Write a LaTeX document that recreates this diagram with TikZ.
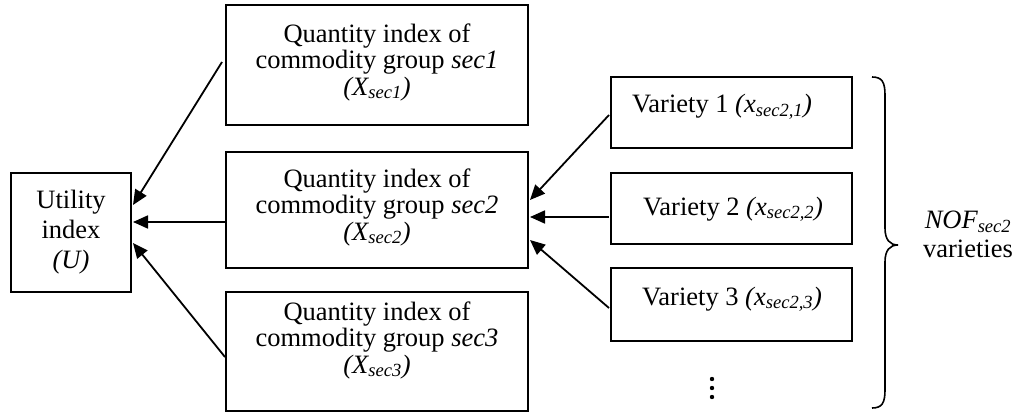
\documentclass[tikz,border=0pt]{standalone}
\usepackage{fontspec}
\setmainfont{Liberation Serif}
\usetikzlibrary{arrows.meta}
\tikzset{
  box/.style={draw, line width=2pt, rectangle, inner sep=0pt},
  txt/.style={inner sep=0pt, align=center, font=\fontsize{26.5}{26.5}\selectfont},
  arr/.style={line width=1.8pt, -{Triangle[length=15pt,width=13pt]}},
}
\begin{document}
\begin{tikzpicture}[x=1pt,y=-1pt]
\useasboundingbox (0,0) rectangle (1018,417);
% boxes
\node[box, minimum width=120pt, minimum height=119pt] (util) at (71,232.5) {};
\node[box, minimum width=302pt, minimum height=120pt] (sec1) at (377,65) {};
\node[box, minimum width=302pt, minimum height=116pt] (sec2) at (377,210) {};
\node[box, minimum width=302pt, minimum height=119pt] (sec3) at (377,351.5) {};
\node[box, minimum width=241pt, minimum height=71pt] (v1) at (731.5,112.5) {};
\node[box, minimum width=241pt, minimum height=71pt] (v2) at (731.5,208.5) {};
\node[box, minimum width=241pt, minimum height=73pt] (v3) at (731.5,304.5) {};
% texts
\node[txt, font=\fontsize{26.5}{30}\selectfont] (utilt) at (71,232) {Utility\\index\\\textit{(U)}};
\node[txt] (sec1t) at (377,62) {Quantity index of\\commodity group \textit{sec1}\\\textit{(X\textsubscript{sec1})}};
\node[txt] (sec2t) at (377,207) {Quantity index of\\commodity group \textit{sec2}\\\textit{(X\textsubscript{sec2})}};
\node[txt] (sec3t) at (377,340) {Quantity index of\\commodity group \textit{sec3}\\\textit{(X\textsubscript{sec3})}};
\node[txt, anchor=base west] (v1t) at (632,113) {Variety 1 \textit{(x\textsubscript{sec2,1})}};
\node[txt, anchor=base west] (v2t) at (643,215) {Variety 2 \textit{(x\textsubscript{sec2,2})}};
\node[txt, anchor=base west] (v3t) at (642,305) {Variety 3 \textit{(x\textsubscript{sec2,3})}};
\node[txt, anchor=base] (nof) at (968,229) {\textit{NOF\textsubscript{sec2}}};
\node[txt, anchor=base] (var) at (968,257) {varieties};
% dots
\fill (712,379) circle (2.2pt) (712,388) circle (2.2pt) (712,397) circle (2.2pt);
% brace
\draw[line width=1.6pt] (872,77) .. controls (882,77) and (885,82) .. (885,95)
  -- (885,228) .. controls (885,240) and (890,245) .. (898,245)
  .. controls (890,245) and (885,250) .. (885,262)
  -- (885,390) .. controls (885,403) and (882,408) .. (872,408);
% arrows
\draw[arr] ([xshift=-3pt,yshift=3pt]sec1.west) -- ([xshift=1pt,yshift=27.5pt]util.east);
\draw[arr] ([yshift=-12pt]sec2.west) -- ([xshift=1pt,yshift=10.5pt]util.east);
\draw[arr] ([yshift=-5.5pt]sec3.west) -- ([xshift=1pt,yshift=-10.5pt]util.east);
\draw[arr] ([xshift=-1pt,yshift=-2.5pt]v1.west) -- ([xshift=1pt,yshift=10pt]sec2.east);
\draw[arr] ([xshift=-1pt,yshift=-8.5pt]v2.west) -- ([xshift=1pt,yshift=-7pt]sec2.east);
\draw[arr] ([xshift=-1pt,yshift=-3.5pt]v3.west) -- ([xshift=1pt,yshift=-30pt]sec2.east);
\end{tikzpicture}
\end{document}
